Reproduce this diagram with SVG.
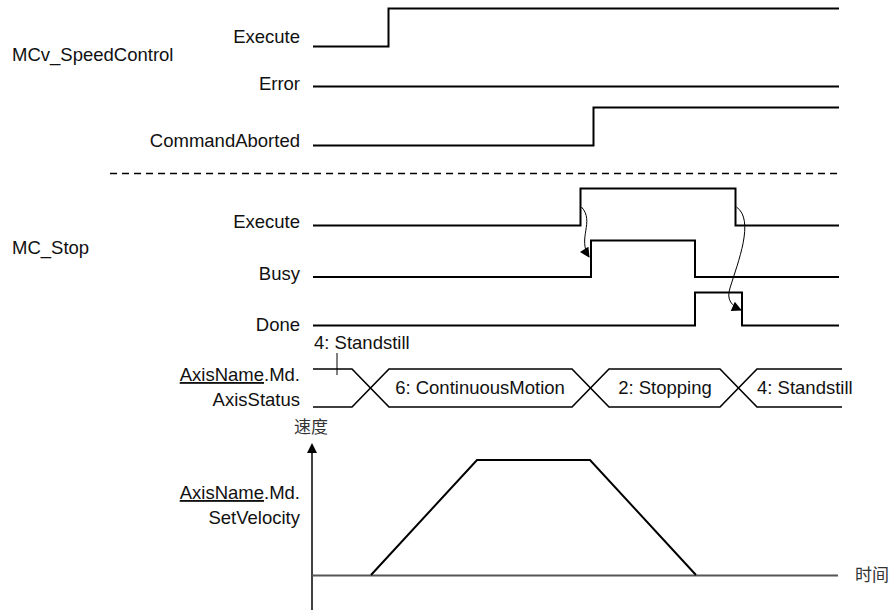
<svg xmlns="http://www.w3.org/2000/svg" width="892" height="610" viewBox="0 0 892 610">
  <defs>
    <marker id="arrow" viewBox="0 0 10 10" refX="9" refY="5" markerWidth="11" markerHeight="10" markerUnits="userSpaceOnUse" orient="auto">
      <path d="M0,0 L10,5 L0,10 Z" fill="#000"/>
    </marker>
    <style>
      text { font-family: "Liberation Sans", Arial, sans-serif; font-size: 18.5px; fill: #111; }
      .cjk { font-family: "Noto Sans CJK SC", "Liberation Serif", serif; font-size: 17px; fill: #333; }
      .r { text-anchor: end; }
      .sig { fill: none; stroke: #000; stroke-width: 2; }
      .thin { fill: none; stroke: #000; stroke-width: 1; }
      .bus { fill: none; stroke: #000; stroke-width: 1.6; }
    </style>
  </defs>

  <rect width="892" height="610" fill="#fff"/>

  <!-- function block names -->
  <text x="12" y="61">MCv_SpeedControl</text>
  <text x="12" y="254">MC_Stop</text>

  <!-- MCv_SpeedControl signals -->
  <g id="sc-execute">
    <text class="r" x="300" y="43">Execute</text>
    <path class="sig" d="M313,46.5 H388.5 V8.5 H839"/>
  </g>
  <g id="sc-error">
    <text class="r" x="300" y="90">Error</text>
    <path class="sig" d="M313,86.5 H839"/>
  </g>
  <g id="sc-aborted">
    <text class="r" x="300" y="147">CommandAborted</text>
    <path class="sig" d="M313,145.5 H593.5 V107.5 H839"/>
  </g>

  <!-- separator -->
  <path d="M110,173.5 H839" stroke="#000" stroke-width="1.3" stroke-dasharray="7,5" fill="none"/>

  <!-- MC_Stop signals -->
  <g id="st-execute">
    <text class="r" x="300" y="228">Execute</text>
    <path class="sig" d="M313,225.5 H580.5 V188.5 H735.5 V225.5 H839"/>
  </g>
  <g id="st-busy">
    <text class="r" x="300" y="280">Busy</text>
    <path class="sig" d="M313,277 H591 V240.5 H695 V277 H839"/>
  </g>
  <g id="st-done">
    <text class="r" x="300" y="331">Done</text>
    <path class="sig" d="M313,325.5 H695 V292.5 H742 V325.5 H839"/>
  </g>

  <!-- cause/effect connectors -->
  <g id="connectors">
    <path class="thin" d="M581.5,207 C595,222 577,238 589,257" marker-end="url(#arrow)"/>
    <path class="thin" d="M736.5,207 C755,220 738,262 730,288 C726,300 732,306 741,310" marker-end="url(#arrow)"/>
  </g>

  <!-- axis status bus -->
  <g id="axis-status">
    <text class="r" x="300" y="381"><tspan text-decoration="underline">AxisName</tspan>.Md.</text>
    <text class="r" x="300" y="406">AxisStatus</text>
    <text x="314" y="349">4: Standstill</text>
    <path class="thin" d="M337,353 V375"/>
    <path class="bus" d="M313,369 H352 L389,407 H572 L609,369 H720 L757,407 H842"/>
    <path class="bus" d="M313,407 H352 L389,369 H572 L609,407 H720 L757,369 H842"/>
    <text x="480" y="394" text-anchor="middle">6: ContinuousMotion</text>
    <text x="665" y="394" text-anchor="middle">2: Stopping</text>
    <text x="757" y="394">4: Standstill</text>
  </g>

  <!-- velocity chart -->
  <g id="velocity">
    <text class="cjk" x="294" y="433">速度</text>
    <path d="M312,453 V610" stroke="#000" stroke-width="1.5" fill="none"/>
    <path d="M312,443 L317,453 L307,453 Z" fill="#000"/>
    <path d="M312,575.5 H838" stroke="#555" stroke-width="2" fill="none"/>
    <text class="cjk" x="855" y="581">时间</text>
    <text class="r" x="300" y="499"><tspan text-decoration="underline">AxisName</tspan>.Md.</text>
    <text class="r" x="300" y="524">SetVelocity</text>
    <path class="sig" d="M371,575 L477,460 H590 L696,575"/>
  </g>
</svg>
